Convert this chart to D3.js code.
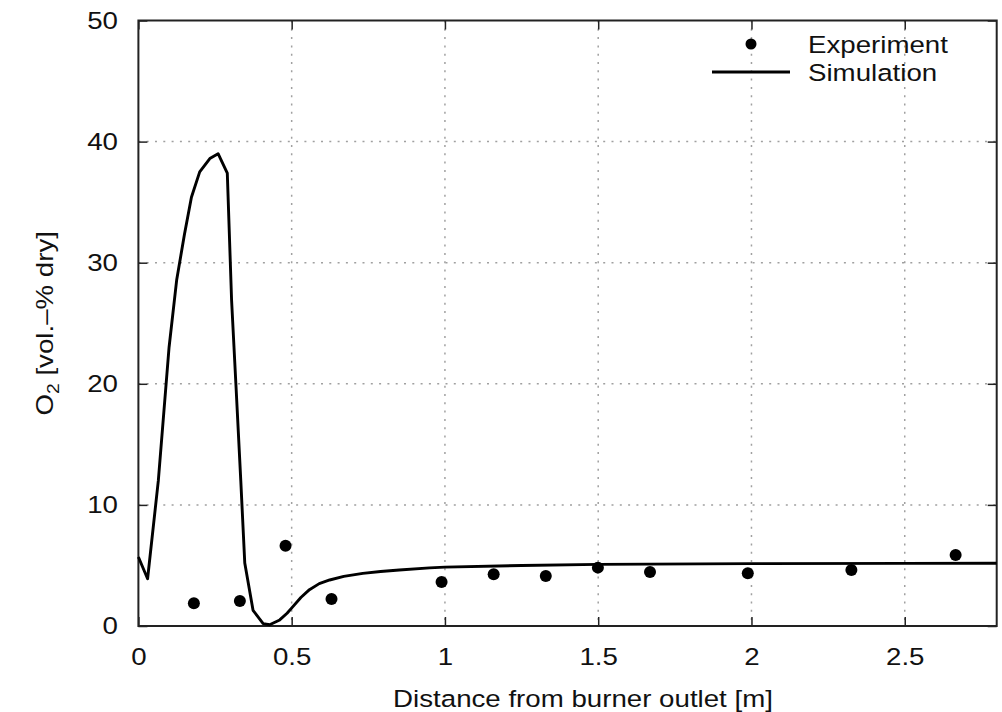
<!DOCTYPE html>
<html>
<head>
  <meta charset="utf-8">
  <script src="https://d3js.org/d3.v7.min.js"></script>
  <style>
  body {
    margin: 0;
    background: #fff;
  }
  text {
    font-family: "Liberation Sans", Arial, sans-serif;
    font-size: 24.5px;
    fill: #111;
  }
  .grid line {
    stroke: #a0a0a0;
    stroke-width: 1.5;
    stroke-dasharray: 2, 6.3;
  }
  .axis line {
    stroke: #222;
    stroke-width: 1.5;
  }
</style>
</head>
<body>
<script>

  // experiment (dots)
  var expX = [0.181, 0.331, 0.480, 0.630, 0.989, 1.159, 1.329, 1.499, 1.669, 1.988, 2.326, 2.666];
  var expY = [1.87, 2.06, 6.63, 2.23, 3.63, 4.27, 4.13, 4.82, 4.46, 4.35, 4.62, 5.86];

  // simulation (line)
  var simX = [0, 0.03, 0.065, 0.1, 0.125, 0.15, 0.173, 0.2, 0.233, 0.26, 0.29, 0.304, 0.318, 0.334,
              0.347, 0.374, 0.407, 0.428, 0.461, 0.485, 0.504, 0.53, 0.558, 0.59, 0.624, 0.67,
              0.732, 0.79, 0.851, 0.95, 1.0, 1.25, 1.5, 2.0, 2.5, 2.8];
  var simY = [5.7, 3.9, 12.0, 23.0, 28.6, 32.3, 35.4, 37.5, 38.6, 39.0, 37.4, 26.9, 20.0, 12.0,
              5.2, 1.3, 0.2, 0.1, 0.5, 1.05, 1.6, 2.35, 3.0, 3.5, 3.8, 4.1,
              4.35, 4.5, 4.62, 4.8, 4.86, 5.0, 5.09, 5.15, 5.17, 5.18];

  var xTicks = [0, 0.5, 1, 1.5, 2, 2.5];
  var yTicks = [0, 10, 20, 30, 40, 50];
  var seriesNames = ["Experiment", "Simulation"];

  var sx = 1.13; // text is a bit wider than Liberation Sans

  var margin = {top: 20.5, right: 5.3, bottom: 86, left: 138.4},
    width = 1002 - margin.left - margin.right,
    height = 712 - margin.top - margin.bottom;

  var svg = d3.select("body").append("svg")
    .attr("width", 1002)
    .attr("height", 712)
  .append("g")
    .attr("transform", "translate(" + margin.left + "," + margin.top + ")");

  var x = d3.scaleLinear().domain([0, 2.8]).range([0, width]);
  var y = d3.scaleLinear().domain([0, 50]).range([height, 0]);

  // grid
  svg.append("g").attr("class", "grid")
    .selectAll("line").data(xTicks.slice(1)).enter().append("line")
    .attr("x1", d => x(d)).attr("x2", d => x(d))
    .attr("y1", 0).attr("y2", height);
  svg.append("g").attr("class", "grid")
    .selectAll("line").data(yTicks.slice(1, -1)).enter().append("line")
    .attr("y1", d => y(d)).attr("y2", d => y(d))
    .attr("x1", 0).attr("x2", width);

  // axes, ticks pointing inward
  var xAxis = svg.append("g")
    .attr("class", "axis")
    .attr("transform", "translate(0," + height + ")")
    .call(d3.axisBottom(x).tickValues(xTicks).tickFormat(d3.format(""))
      .tickSizeInner(-9).tickSizeOuter(0).tickPadding(21.5));
  xAxis.selectAll("text").attr("transform", "scale(" + sx + ",1)");

  svg.append("g")
    .attr("class", "axis")
    .call(d3.axisTop(x).tickValues(xTicks).tickFormat("")
      .tickSizeInner(-9).tickSizeOuter(0));

  var yAxis = svg.append("g")
    .attr("class", "axis")
    .call(d3.axisLeft(y).tickValues(yTicks).tickFormat(d3.format(""))
      .tickSizeInner(-9).tickSizeOuter(0).tickPadding(20));
  yAxis.selectAll("text")
    .attr("x", -20.5 / sx)
    .attr("transform", "scale(" + sx + ",1)");

  svg.append("g")
    .attr("class", "axis")
    .attr("transform", "translate(" + width + ",0)")
    .call(d3.axisRight(y).tickValues(yTicks).tickFormat("")
      .tickSizeInner(-9).tickSizeOuter(0));

  svg.selectAll(".axis .domain").remove();
  svg.selectAll(".axis text").style("font-size", "24.5px").style("fill", "#111")
    .style("font-family", "'Liberation Sans', Arial, sans-serif");

  // frame
  svg.append("rect")
    .attr("width", width)
    .attr("height", height)
    .attr("fill", "none")
    .attr("stroke", "#222")
    .attr("stroke-width", 2);

  // simulation line
  var line = d3.line()
    .x(d => x(d[0]))
    .y(d => y(d[1]));

  svg.append("path")
    .datum(d3.zip(simX, simY))
    .attr("fill", "none")
    .attr("stroke", "#000")
    .attr("stroke-width", 2.9)
    .attr("stroke-linejoin", "round")
    .attr("d", line);

  // experiment dots
  svg.selectAll(".dot")
    .data(d3.zip(expX, expY))
    .enter().append("circle")
    .attr("class", "dot")
    .attr("cx", d => x(d[0]))
    .attr("cy", d => y(d[1]))
    .attr("r", 6)
    .attr("fill", "#000");

  // legend
  var legend = svg.append("g").attr("transform", "translate(" + (808 - margin.left) + "," + (44 - margin.top) + ")");
  legend.append("circle").attr("cx", -57).attr("cy", 0).attr("r", 5.5).attr("fill", "#000");
  legend.append("line").attr("x1", -96).attr("x2", -18).attr("y1", 28).attr("y2", 28)
    .attr("stroke", "#000").attr("stroke-width", 2.9);
  legend.selectAll(".lt")
    .data(seriesNames)
    .enter().append("g")
    .attr("class", "lt")
    .attr("transform", (d, i) => "translate(0," + (i * 28 + 9) + ") scale(" + sx + ",1)")
    .append("text")
    .text(d => d);

  // axis titles
  svg.append("g")
    .attr("transform", "translate(" + (583 - margin.left) + "," + (706.5 - margin.top) + ") scale(" + sx + ",1)")
    .append("text")
    .attr("text-anchor", "middle")
    .text("Distance from burner outlet [m]");

  var yt = svg.append("g")
    .attr("transform", "translate(" + (53 - margin.left) + "," + (height / 2) + ") rotate(-90) scale(" + sx + ",1)")
    .append("text")
    .attr("text-anchor", "middle");
  yt.append("tspan").text("O");
  yt.append("tspan").attr("font-size", "17px").attr("dy", 6).text("2");
  yt.append("tspan").attr("dy", -6).text(" [vol.–% dry]");

</script>
</body>
</html>
